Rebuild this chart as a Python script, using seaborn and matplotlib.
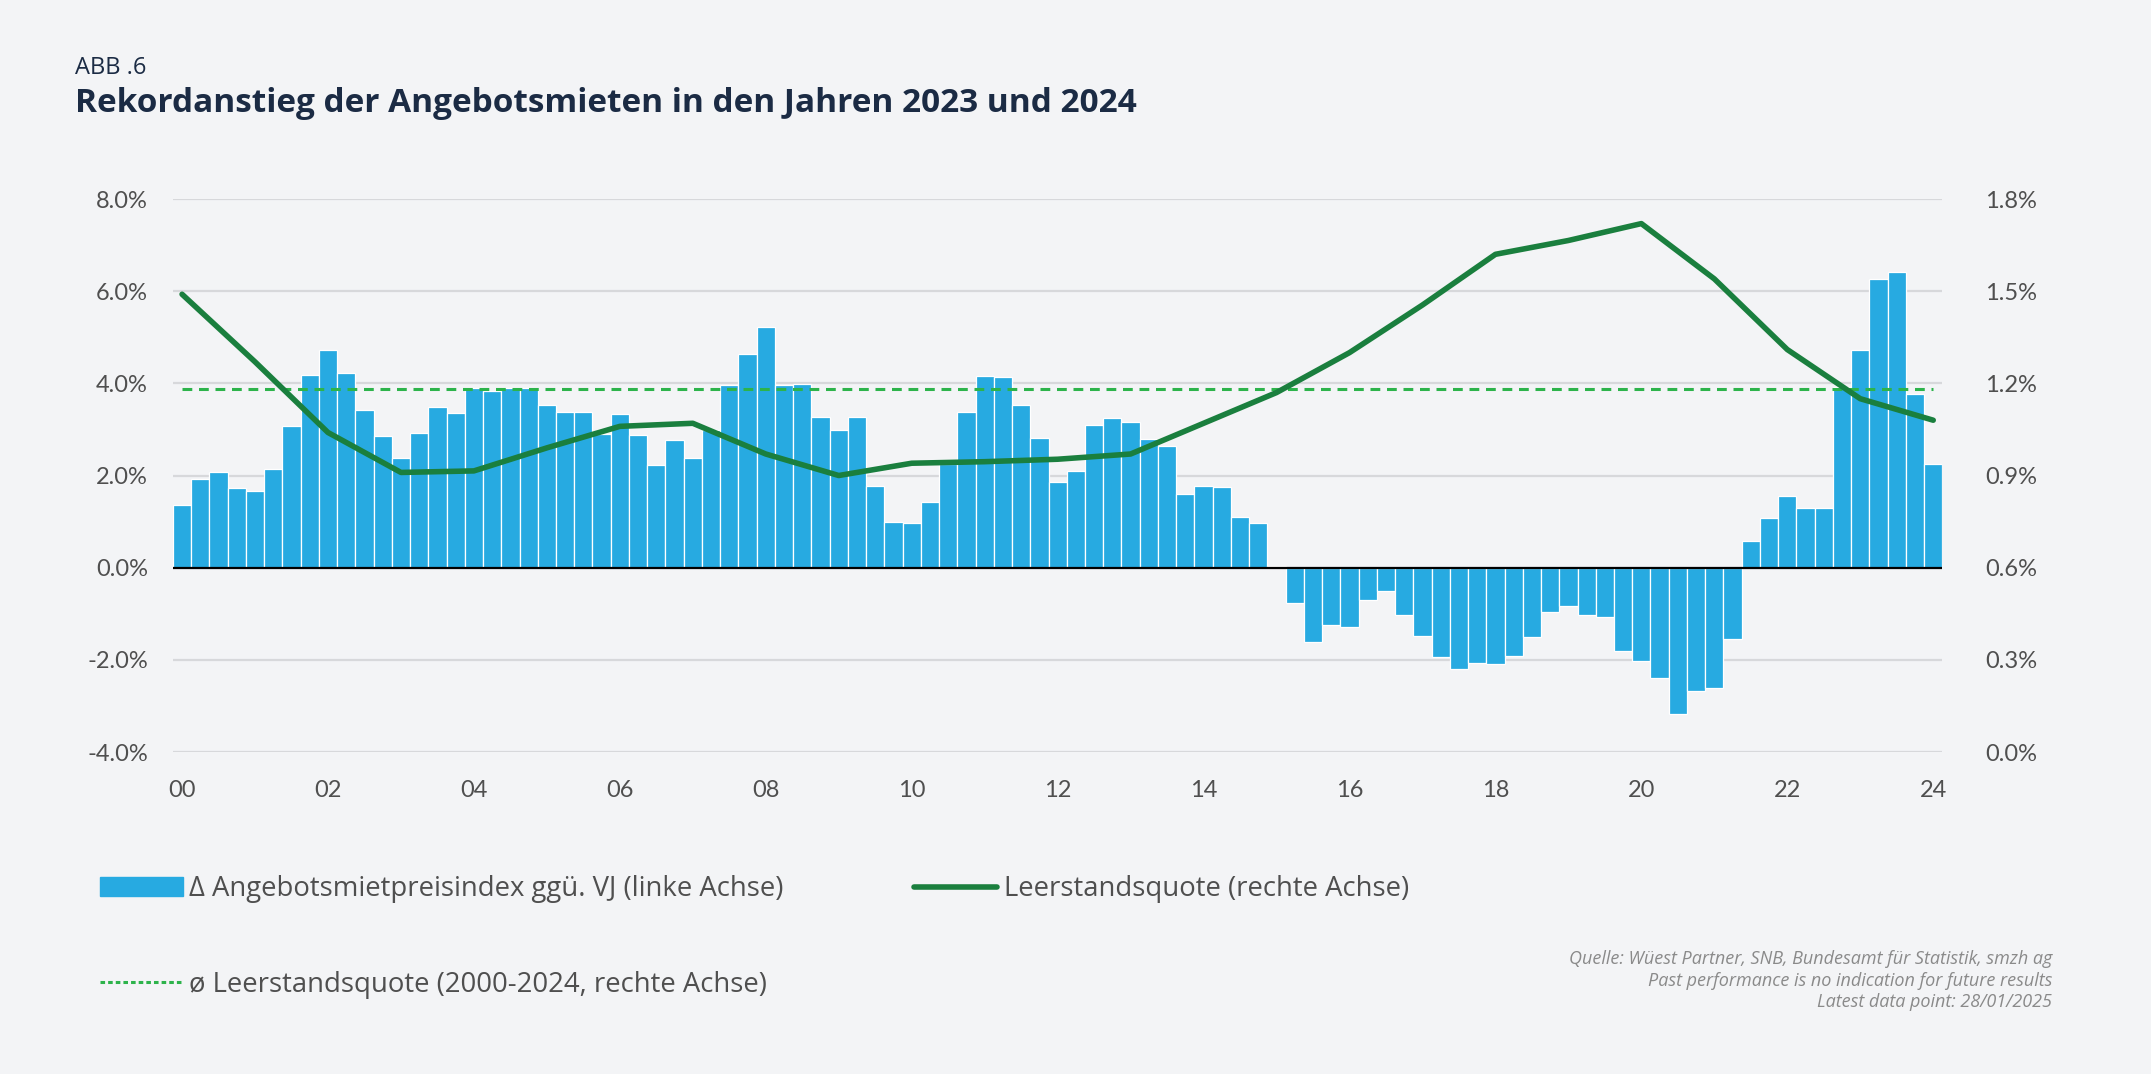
import numpy as np
import seaborn as sns
import matplotlib.pyplot as plt
from matplotlib.patches import Patch
from matplotlib.lines import Line2D

# quarterly change of the asking-rent index (left axis, %), 2000 Q1 .. 2024
rent_change = [
    1.37, 1.93, 2.07, 1.73, 1.67, 2.15, 3.07, 4.19,
    4.73, 4.22, 3.42, 2.85, 2.39, 2.92, 3.48, 3.36,
    3.89, 3.84, 3.89, 3.89, 3.53, 3.37, 3.38, 2.90,
    3.34, 2.88, 2.23, 2.78, 2.38, 2.98, 3.97, 4.63,
    5.23, 3.97, 3.98, 3.28, 2.98, 3.28, 1.77, 1.00,
    0.96, 1.43, 2.25, 3.38, 4.17, 4.14, 3.53, 2.81,
    1.87, 2.09, 3.09, 3.24, 3.16, 2.80, 2.64, 1.59,
    1.77, 1.74, 1.11, 0.97, 0.03, -0.76, -1.62, -1.25,
    -1.29, -0.70, -0.51, -1.03, -1.49, -1.93, -2.20, -2.06,
    -2.08, -1.91, -1.50, -0.96, -0.83, -1.03, -1.08, -1.80,
    -2.03, -2.40, -3.18, -2.68, -2.61, -1.55, 0.58, 1.07,
    1.55, 1.29, 1.30, 3.91, 4.73, 6.26, 6.42, 3.77,
    2.24,
]
quarters = list(range(len(rent_change)))

# yearly vacancy rate (right axis, %), 2000 .. 2024
vacancy = [
    1.49, 1.27, 1.04, 0.91, 0.915, 0.99, 1.06, 1.07, 0.97,
    0.90, 0.94, 0.945, 0.953, 0.97, 1.07, 1.17, 1.30, 1.455,
    1.62, 1.665, 1.72, 1.54, 1.31, 1.15, 1.08,
]
year_pos = quarters[::4]
vacancy_avg = 1.18

left_ticks = [-4, -2, 0, 2, 4, 6, 8]
right_ticks = [0.0, 0.3, 0.6, 0.9, 1.2, 1.5, 1.8]
year_labels = ["00", "02", "04", "06", "08", "10", "12", "14", "16", "18", "20", "22", "24"]

bg = "#f3f4f6"
blue = "#27aae1"
green = "#1a7f3e"
light_green = "#2db34b"
grey_txt = "#4f4f4f"
navy = "#1b2b44"
wide = ["Open Sans", "DejaVu Sans"]

sns.set_style("white")
plt.rcParams["font.family"] = ["Lato", "DejaVu Sans"]

fig = plt.figure(figsize=(21.51, 10.74), dpi=100, facecolor=bg)
ax = fig.add_axes([0.0804, 0.2998, 0.8226, 0.5149])
ax.set_facecolor(bg)

sns.barplot(x=quarters, y=rent_change, color=blue, saturation=1, width=1,
            edgecolor="white", linewidth=0.9, ax=ax)
ax.axhline(0, color="black", lw=1.6, zorder=3)
ax.set_ylim(-4, 8)
ax.set_xlim(-0.5, len(rent_change) - 0.5)
ax.set_yticks(left_ticks)
ax.set_yticklabels([f"{v:.1f}%" for v in left_ticks])
ax.set_xticks(year_pos[::2])
ax.set_xticklabels(year_labels)
ax.yaxis.grid(True, color="#d7d8db", lw=1.6)
ax.set_axisbelow(True)
ax.set_xlabel("")
ax.set_ylabel("")
ax.tick_params(axis="y", length=0, pad=18, labelsize=17, labelcolor=grey_txt)
ax.tick_params(axis="x", length=0, pad=20, labelsize=17, labelcolor=grey_txt)
sns.despine(ax=ax, left=True, bottom=True)

ax2 = ax.twinx()
sns.lineplot(x=year_pos, y=[vacancy_avg] * len(year_pos), color=light_green,
             lw=2.2, ax=ax2, linestyle=(0, (3.2, 2.2)))
sns.lineplot(x=year_pos, y=vacancy, color=green, lw=4, ax=ax2,
             solid_capstyle="round")
ax2.set_ylim(0, 1.8)
ax2.set_yticks(right_ticks)
ax2.set_yticklabels([f"{v:.1f}%" for v in right_ticks])
ax2.set_ylabel("")
ax2.tick_params(axis="y", length=0, pad=31, labelsize=17, labelcolor=grey_txt)
for s in ax2.spines.values():
    s.set_visible(False)

# titles
fig.text(0.0349, 0.937, "ABB .6", fontsize=17, family=wide,
         color=navy, va="center")
fig.text(0.0349, 0.904, "Rekordanstieg der Angebotsmieten in den Jahren 2023 und 2024",
         fontsize=24, fontweight="bold", family=wide, color=navy, va="center")

# legend entries
leg_kw = dict(frameon=False, borderpad=0, borderaxespad=0, handlelength=3.0,
              handletextpad=0.25, loc="center left",
              prop={"family": wide, "size": 19.8})
leg_list = [
    fig.legend(handles=[Patch(color=blue)],
               labels=["Δ Angebotsmietpreisindex ggü. VJ (linke Achse)"],
               bbox_to_anchor=(0.0465, 0.172), **leg_kw),
    fig.legend(handles=[Line2D([], [], color=green, lw=4)],
               labels=["Leerstandsquote (rechte Achse)"],
               bbox_to_anchor=(0.425, 0.172), **leg_kw),
    fig.legend(handles=[Line2D([], [], color=light_green, lw=2.2, linestyle=(0, (1.5, 1)))],
               labels=["ø Leerstandsquote (2000-2024, rechte Achse)"],
               bbox_to_anchor=(0.0465, 0.083), **leg_kw),
]
for lg in leg_list:
    for t in lg.get_texts():
        t.set_color(grey_txt)

fig.text(0.954, 0.115,
         "Quelle: Wüest Partner, SNB, Bundesamt für Statistik, smzh ag\n"
         "Past performance is no indication for future results\n"
         "Latest data point: 28/01/2025",
         ha="right", va="top", multialignment="right", fontsize=13,
         family=wide, style="italic", color="#8a8a8a", linespacing=1.25)

fig.savefig("out.png", dpi=100, facecolor=bg)
